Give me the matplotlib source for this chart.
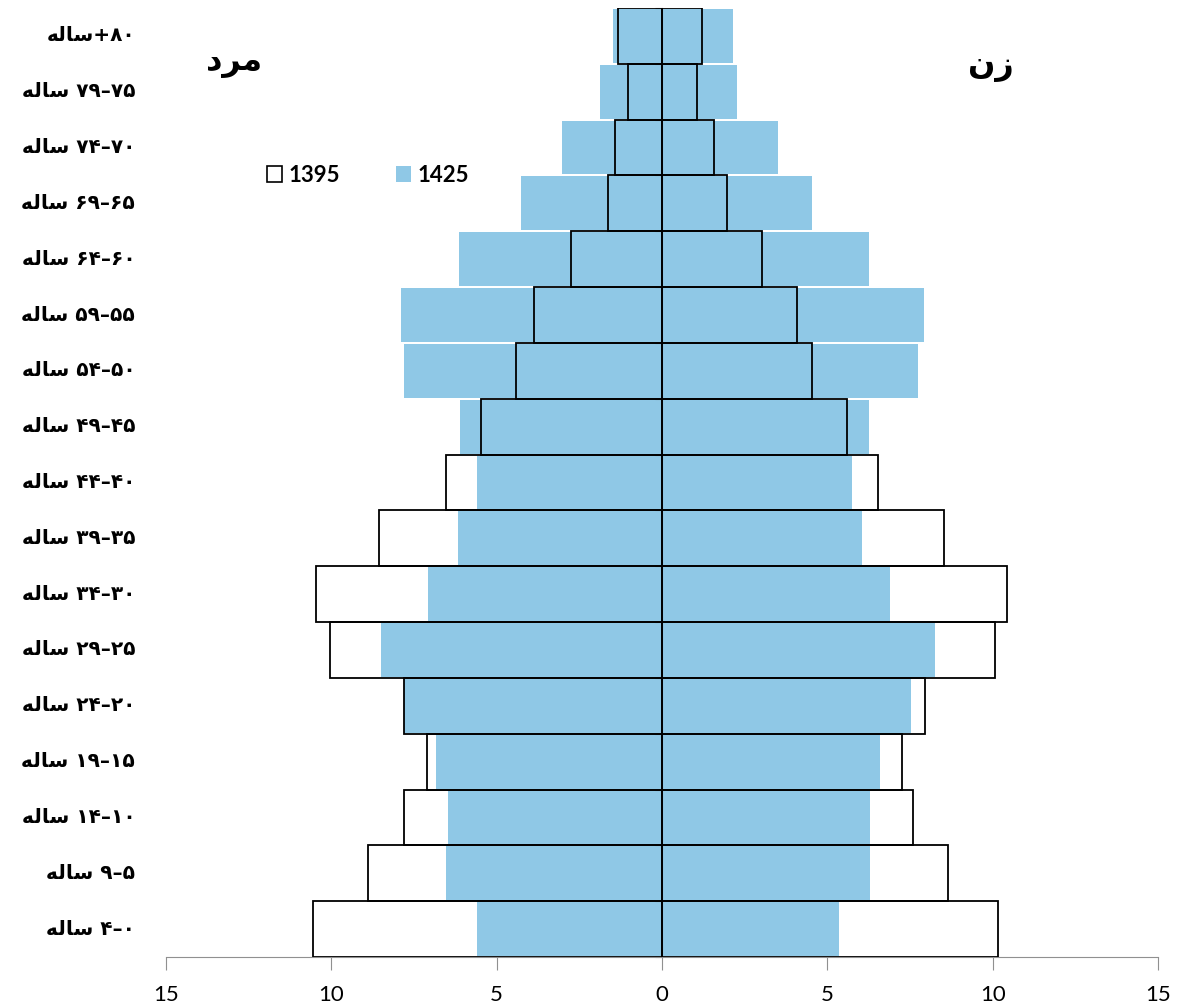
import matplotlib
matplotlib.use('Agg')
import matplotlib.pyplot as plt
import matplotlib.transforms as mtransforms
from matplotlib.patches import Patch
import numpy as np

# age groups, top to bottom (as read in the chart)
age_groups = ['۸۰+', '۷۵-۷۹', '۷۰-۷۴', '۶۵-۶۹', '۶۰-۶۴', '۵۵-۵۹', '۵۰-۵۴', '۴۵-۴۹',
              '۴۰-۴۴', '۳۵-۳۹', '۳۰-۳۴', '۲۵-۲۹', '۲۰-۲۴', '۱۵-۱۹', '۱۰-۱۴', '۵-۹', '۰-۴']
word_year = 'ساله'
label_male = 'مرد'
label_female = 'زن'

male_1425 = [1.49, 1.87, 3.01, 4.27, 6.13, 7.88, 7.79, 6.11, 5.60, 6.17, 7.07, 8.50, 7.81, 6.82, 6.48, 6.52, 5.59]
female_1425 = [2.16, 2.28, 3.52, 4.53, 6.27, 7.93, 7.75, 6.27, 5.74, 6.05, 6.90, 8.25, 7.52, 6.58, 6.29, 6.29, 5.35]
male_1395 = [1.32, 1.02, 1.41, 1.62, 2.75, 3.86, 4.42, 5.47, 6.53, 8.56, 10.45, 10.04, 7.81, 7.11, 7.81, 8.89, 10.56]
female_1395 = [1.22, 1.05, 1.57, 1.96, 3.02, 4.09, 4.54, 5.59, 6.53, 8.52, 10.42, 10.08, 7.94, 7.25, 7.60, 8.65, 10.17]

# minimal arabic shaping (presentation forms), matplotlib has no shaping/bidi
FORMS = {
    'س': ('\ufeb1', '\ufeb2', '\ufeb3', '\ufeb4'),
    'ا': ('\ufe8d', '\ufe8e', None, None),
    'ل': ('\ufedd', '\ufede', '\ufedf', '\ufee0'),
    'ه': ('\ufee9', '\ufeea', '\ufeeb', '\ufeec'),
    'م': ('\ufee1', '\ufee2', '\ufee3', '\ufee4'),
    'ر': ('\ufead', '\ufeae', None, None),
    'د': ('\ufea9', '\ufeaa', None, None),
    'ز': ('\ufeaf', '\ufeb0', None, None),
    'ن': ('\ufee5', '\ufee6', '\ufee7', '\ufee8'),
}


def shape(word):
    out = []
    for i, ch in enumerate(word):
        f = FORMS[ch]
        prev = i > 0 and FORMS[word[i - 1]][2] is not None
        nxt = i < len(word) - 1 and f[2] is not None
        if prev and nxt:
            out.append(f[3])
        elif prev:
            out.append(f[1])
        elif nxt:
            out.append(f[2])
        else:
            out.append(f[0])
    return ''.join(reversed(out))


def visual_label(g):
    w = shape(word_year)
    if g.endswith('+'):
        return w + '+' + g[:-1]
    lo, hi = g.split('-')
    return w + ' ' + hi + '–' + lo


blue = '#8FC8E6'
n = len(age_groups)
y = np.arange(n)

fig = plt.figure(figsize=(11.83, 10.06), dpi=100)
ax = fig.add_axes([166 / 1183, 1 - 957 / 1006, 992 / 1183, 949 / 1006])

ax.barh(y, -np.array(male_1425), height=0.965, color=blue, linewidth=0, zorder=1)
ax.barh(y, female_1425, height=0.965, color=blue, linewidth=0, zorder=1)
ax.barh(y, -np.array(male_1395), height=1.0, fill=False, edgecolor='black', linewidth=1.3, zorder=3)
ax.barh(y, female_1395, height=1.0, fill=False, edgecolor='black', linewidth=1.3, zorder=3)

ax.set_xlim(-15, 15)
ax.set_ylim(n - 0.5, -0.5)

for s in ['top', 'right']:
    ax.spines[s].set_visible(False)
ax.spines['left'].set_position(('data', 0))
ax.spines['left'].set_color('#808080')
ax.spines['left'].set_zorder(2)
ax.spines['bottom'].set_color('#909090')

ax.set_xticks([-15, -10, -5, 0, 5, 10, 15])
ax.set_xticklabels(['15', '10', '5', '0', '5', '10', '15'], family='Lato', fontsize=16)
ax.tick_params(axis='x', direction='out', length=9, color='#909090', pad=11)
ax.set_yticks(np.arange(-0.5, n, 1.0))
ax.set_yticklabels([])
ax.tick_params(axis='y', direction='out', length=5, color='#808080')

trans = mtransforms.blended_transform_factory(ax.transAxes, ax.transData)
for i, g in enumerate(age_groups):
    ax.text(-0.031, i, visual_label(g), transform=trans, ha='right', va='center',
            fontsize=14.5, fontweight='bold', family=['DejaVu Sans', 'Noto Sans'])

fig.text(234 / 1183, 1 - 62 / 1006, shape(label_male), ha='center', va='center',
         fontsize=23, fontweight='bold', family=['DejaVu Sans'])
fig.text(991 / 1183, 1 - 66 / 1006, shape(label_female), ha='center', va='center',
         fontsize=23, fontweight='bold', family=['DejaVu Sans'])

handles = [Patch(facecolor='white', edgecolor='black', linewidth=1.2, label='1395'),
           Patch(facecolor=blue, edgecolor='none', label='1425')]
fig.legend(handles=handles, loc='center', bbox_to_anchor=(368 / 1183, 1 - 175 / 1006), ncol=2,
           frameon=False, handlelength=0.7, handleheight=0.7, handletextpad=0.3, columnspacing=2.5,
           prop={'family': 'Lato', 'weight': 'bold', 'size': 16})

fig.savefig('out.png', dpi=100)
